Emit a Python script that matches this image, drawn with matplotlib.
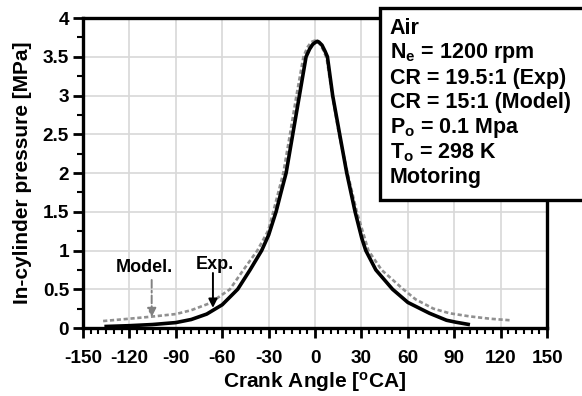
import matplotlib
matplotlib.use("Agg")
import matplotlib.pyplot as plt
from matplotlib.ticker import MultipleLocator

plt.rcParams['font.family'] = ['Liberation Sans', 'DejaVu Sans']
plt.rcParams['font.weight'] = 'bold'
plt.rcParams['axes.unicode_minus'] = False
plt.rcParams['mathtext.fontset'] = 'custom'
plt.rcParams['mathtext.rm'] = 'Liberation Sans:bold'
plt.rcParams['mathtext.bf'] = 'Liberation Sans:bold'
plt.rcParams['mathtext.it'] = 'Liberation Sans:bold'

# experiment (solid black)
exp_ca = [-135, -120, -105, -90, -80, -70, -60, -50, -42, -34.5, -30, -25.2, -22, -18.7,
          -14.4, -10.1, -5.8, -3.5, -1.5, 0.5, 1.5, 2.5, 4.5, 6.5, 8.0, 11.4, 16.2, 20.5,
          25.9, 30.2, 32.8, 39.3, 50.1, 60, 74, 85, 91, 99]
exp_p = [0.02, 0.03, 0.045, 0.07, 0.11, 0.18, 0.3, 0.5, 0.75, 1.0, 1.2, 1.5, 1.75, 2.0,
         2.5, 3.0, 3.5, 3.6, 3.66, 3.69, 3.7, 3.69, 3.65, 3.57, 3.5, 3.0, 2.47, 2.0,
         1.5, 1.16, 1.0, 0.75, 0.5, 0.33, 0.19, 0.1, 0.075, 0.047]

# model (grey dashed)
mod_ca = [-137, -120, -106, -90, -80, -68, -55, -46.3, -37.3, -30.2, -27, -20.5, -16.2,
          -12, -7.5, -5, -2.5, 0, 2.5, 5, 7.5, 11.2, 15.5, 21, 27, 34.5, 43, 57, 65, 76.5,
          87, 100, 113, 126]
mod_p = [0.09, 0.12, 0.146, 0.18, 0.23, 0.32, 0.5, 0.75, 1.0, 1.26, 1.5, 2.0, 2.5,
         3.0, 3.5, 3.62, 3.69, 3.71, 3.68, 3.6, 3.48, 3.0, 2.5, 2.0, 1.5, 1.0, 0.75, 0.5,
         0.37, 0.25, 0.19, 0.15, 0.12, 0.10]

info = ["Air", r"N$_\mathregular{e}$ = 1200 rpm", "CR = 19.5:1 (Exp)", "CR = 15:1 (Model)",
        r"P$_\mathregular{o}$ = 0.1 Mpa", r"T$_\mathregular{o}$ = 298 K", "Motoring"]

fig = plt.figure(figsize=(5.82, 3.96), dpi=100)
ax = fig.add_axes([0.1426, 0.1717, 0.7974, 0.7828])

ax.plot(mod_ca, mod_p, color='#909090', linestyle=(0, (1.6, 1.0)), linewidth=1.9, zorder=3)
ax.plot(exp_ca, exp_p, color='black', linewidth=2.6, zorder=4)

ax.set_xlim(-150, 150)
ax.set_ylim(0, 4)
ax.xaxis.set_major_locator(MultipleLocator(30))
ax.xaxis.set_minor_locator(MultipleLocator(5))
ax.yaxis.set_minor_locator(MultipleLocator(0.25))
ax.set_yticks([0, 0.5, 1, 1.5, 2, 2.5, 3, 3.5, 4])
ax.set_yticklabels(['0', '0.5', '1', '1.5', '2', '2.5', '3', '3.5', '4'])
ax.grid(True, which='major', color='#d8d8d8', linewidth=1.2, zorder=0)
ax.set_axisbelow(True)
for s in ax.spines.values():
    s.set_linewidth(2.4)
ax.tick_params(which='major', direction='out', length=7, width=2, labelsize=13.7)
ax.tick_params(axis='x', which='major', pad=9)
ax.tick_params(axis='y', which='major', pad=3)
ax.tick_params(which='minor', direction='out', length=4, width=1.5)

ax.set_xlabel(r"Crank Angle [$^\mathregular{o}$CA]", fontsize=15, fontweight='bold', labelpad=2)
ax.set_ylabel("In-cylinder pressure [MPa]", fontsize=15, fontweight='bold', labelpad=8)

# annotation labels and arrows
ax.text(-110, 0.78, "Model.", ha='center', va='center', fontsize=13, fontweight='bold')
ax.annotate("", xy=(-105.6, 0.14), xytext=(-105.6, 0.62),
            arrowprops=dict(arrowstyle='-|>', color='#808080', linestyle=(0, (4, 1.5, 1, 1.5)),
                            linewidth=1.4, shrinkA=0, shrinkB=0, mutation_scale=13))
ax.text(-64.5, 0.82, "Exp.", ha='center', va='center', fontsize=13, fontweight='bold')
ax.annotate("", xy=(-66, 0.26), xytext=(-66, 0.71),
            arrowprops=dict(arrowstyle='-|>', color='black', linewidth=1.4,
                            shrinkA=0, shrinkB=0, mutation_scale=13))

# info box
box = plt.Rectangle((0.653, 0.495), 0.36, 0.485, transform=fig.transFigure,
                    facecolor='white', edgecolor='black', linewidth=2.4, zorder=10)
fig.patches.append(box)
y0 = 0.928
for i, line in enumerate(info):
    fig.text(0.670, y0 - i * 0.0625, line, fontsize=15.5, fontweight='bold',
             ha='left', va='center', zorder=11)

fig.savefig("out.png", dpi=100)
